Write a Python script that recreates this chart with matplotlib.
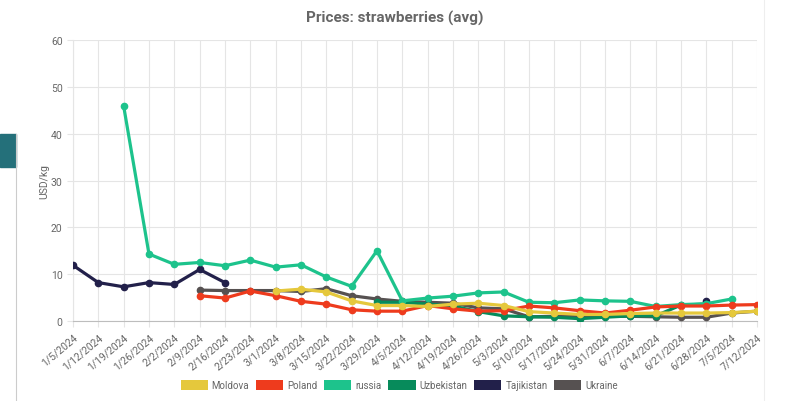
import numpy as np
import matplotlib.pyplot as plt
from matplotlib.patches import Patch, Rectangle

plt.rcParams['font.family'] = ['Roboto', 'DejaVu Sans']

# weekly dates
dates = ['1/5/2024', '1/12/2024', '1/19/2024', '1/26/2024', '2/2/2024', '2/9/2024',
         '2/16/2024', '2/23/2024', '3/1/2024', '3/8/2024', '3/15/2024', '3/22/2024',
         '3/29/2024', '4/5/2024', '4/12/2024', '4/19/2024', '4/26/2024', '5/3/2024',
         '5/10/2024', '5/17/2024', '5/24/2024', '5/31/2024', '6/7/2024', '6/14/2024',
         '6/21/2024', '6/28/2024', '7/5/2024', '7/12/2024']

n = np.nan
# prices, USD/kg (nan = no data)
moldova = [n, n, n, n, n, n, n, n, 6.4, 6.8, 6.2, 4.3, 3.3, 3.3, 3.1, 3.6, 3.8, 3.3,
           2.0, 1.7, 1.4, 1.4, 1.6, 1.7, 1.7, 1.7, 1.8, 2.1]
poland = [n, n, n, n, n, 5.4, 4.9, 6.4, 5.4, 4.2, 3.6, 2.4, 2.1, 2.1, 3.3, 2.6, 2.1, 2.2,
          3.2, 2.8, 2.2, 1.7, 2.3, 3.0, 3.2, 3.2, 3.4, 3.5]
russia = [n, n, 45.9, 14.3, 12.1, 12.5, 11.8, 13.0, 11.5, 12.0, 9.4, 7.4, 15.0, 4.3, 4.9,
          5.3, 6.0, 6.2, 4.0, 3.9, 4.5, 4.3, 4.2, 3.1, 3.5, 3.7, 4.7, n]
uzbekistan = [n, n, n, n, n, n, n, n, n, n, n, n, 4.0, 4.0, 3.6, 3.2, 2.0, 1.1,
              0.9, 0.8, 0.5, 0.8, 1.1, 1.1, 3.4, 3.6, n, n]
tajikistan = [11.9, 8.2, 7.3, 8.2, 7.8, 11.0, 8.2, n, n, n, n, n, n, n, n, n, n, n,
              n, n, n, n, n, n, n, 4.3, n, n]
ukraine = [n, n, n, n, n, 6.6, 6.5, 6.5, 6.5, 6.3, 6.9, 5.4, 4.7, 4.2, 4.0, 3.8, 2.8, 2.6,
           0.9, 1.0, 1.0, 1.0, 1.0, 0.9, 0.8, 0.8, 1.7, 2.1]

series = ['Moldova', 'Poland', 'russia', 'Uzbekistan', 'Tajikistan', 'Ukraine']
values = [moldova, poland, russia, uzbekistan, tajikistan, ukraine]
colors = ['#e5c83c', '#ee3b1d', '#1dc38c', '#078b5b', '#22204a', '#565151']

fig = plt.figure(figsize=(7.89, 4.02), dpi=100)
ax = fig.add_axes([0.0925, 0.199, 0.8669, 0.699])

x = np.arange(len(dates))
for i, (name, vals, c) in enumerate(zip(series, values, colors)):
    ax.plot(x, vals, color=c, lw=2.3, marker='o', ms=4.5, label=name,
            zorder=10 - i, solid_joinstyle='round')

ax.set_xlim(0, len(dates) - 1)
ax.set_ylim(0, 60)
ax.set_yticks(range(0, 61, 10))
ax.set_xticks(x)
ax.set_xticklabels(dates, rotation=40, ha='right', rotation_mode='anchor')
ax.tick_params(axis='both', labelsize=7.5, labelcolor='#666666', color='#e5e5e5',
               length=4, width=0.8)
ax.grid(True, color='#e5e5e5', lw=0.8)
ax.set_axisbelow(True)
for s in ['top', 'right']:
    ax.spines[s].set_visible(False)
ax.spines['left'].set_color('#e5e5e5')
ax.spines['bottom'].set_color('#bdbdbd')

ax.set_ylabel('USD/kg', fontsize=7.5, color='#666666', labelpad=1)
fig.text(0.5, 0.955, 'Prices: strawberries (avg)', ha='center', va='center',
         fontsize=11, fontweight='bold', color='#666666')

handles = [Patch(facecolor=c, label=s) for s, c in zip(series, colors)]
fig.legend(handles=handles, loc='center', bbox_to_anchor=(0.506, 0.04), ncol=6,
           frameon=False, fontsize=7, handlelength=2.8, handleheight=1.3,
           handletextpad=0.4, columnspacing=0.7, labelcolor='#666666')

# page fragments around the chart
fig.patches.append(Rectangle((0, 1 - 168 / 402), 16 / 789, 33 / 402,
                             transform=fig.transFigure, color='#24707a'))
fig.lines.append(plt.Line2D([16 / 789, 16 / 789], [0, 1 - 135 / 402],
                            transform=fig.transFigure, color='#cccccc', lw=0.8))
fig.lines.append(plt.Line2D([764 / 789, 764 / 789], [0, 1],
                            transform=fig.transFigure, color='#eeeeee', lw=0.8))

fig.savefig('out.png', dpi=100)
